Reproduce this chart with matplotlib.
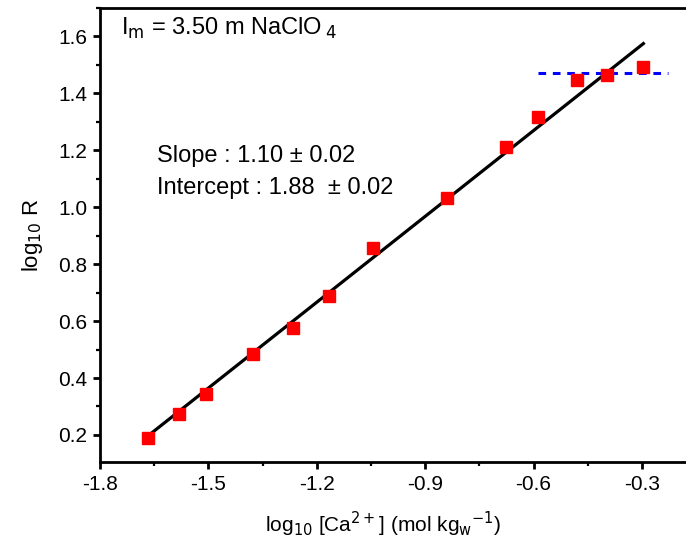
import matplotlib
matplotlib.use("Agg")
import matplotlib.pyplot as plt
from matplotlib.ticker import MultipleLocator

# data
logCa = [-1.667, -1.581, -1.506, -1.376, -1.265, -1.166, -1.044,
         -0.839, -0.675, -0.589, -0.481, -0.398, -0.296]
logR = [0.190, 0.274, 0.344, 0.485, 0.576, 0.689, 0.858,
        1.034, 1.210, 1.316, 1.446, 1.463, 1.494]

# fitted line end points
fit_x = [-1.667, -0.296]
fit_y = [0.197, 1.575]

# plateau (dashed)
plat_x = [-0.587, -0.227]
plat_y = [1.47, 1.47]

xticks = [-1.8, -1.5, -1.2, -0.9, -0.6, -0.3]
yticks = [0.2, 0.4, 0.6, 0.8, 1.0, 1.2, 1.4, 1.6]

plt.rcParams['font.family'] = ['Liberation Sans', 'DejaVu Sans']

fig = plt.figure(figsize=(6.86, 5.42), dpi=100)
ax = fig.add_axes([0.1458, 0.1476, 0.8542, 0.8376])

ax.plot(fit_x, fit_y, color='black', lw=2.3, zorder=2)
ax.plot(plat_x, plat_y, color='blue', lw=2.2, ls=(0, (2.5, 2.2)), zorder=2)
ax.plot(logCa, logR, 's', color='red', ms=8, mec='red', zorder=3)

ax.set_xlim(-1.8, -0.178)
ax.set_ylim(0.105, 1.70)
ax.set_xticks(xticks)
ax.set_yticks(yticks)
ax.set_xticklabels([f"{v:.1f}" for v in xticks])
ax.set_yticklabels([f"{v:.1f}" for v in yticks])
ax.xaxis.set_minor_locator(MultipleLocator(0.15))
ax.yaxis.set_minor_locator(MultipleLocator(0.1))

for s in ['left', 'bottom', 'top']:
    ax.spines[s].set_linewidth(2)
ax.spines['right'].set_visible(False)
ax.tick_params(which='major', direction='out', length=5, width=2, labelsize=15, pad=4)
ax.tick_params(which='minor', direction='out', length=3, width=1.6)
ax.tick_params(top=False, right=False)

ax.set_xlabel(r'log$_{10}$ [Ca$^{2+}$] (mol kg$_{\rm w}$$^{-1}$)', fontsize=15, labelpad=11)
ax.xaxis.set_label_coords(0.483, -0.105)
ax.set_ylabel(r'log$_{10}$ R', fontsize=16, labelpad=10)

ax.text(0.035, 0.955, r'I$_{\rm m}$ = 3.50 m NaClO$\,_4$', transform=ax.transAxes,
        fontsize=17, va='center', ha='left')
ax.text(0.097, 0.675, 'Slope : 1.10 \u00b1 0.02', transform=ax.transAxes,
        fontsize=17, va='center', ha='left')
ax.text(0.097, 0.603, 'Intercept : 1.88  \u00b1 0.02', transform=ax.transAxes,
        fontsize=17, va='center', ha='left')

fig.savefig('out.png', dpi=100)
